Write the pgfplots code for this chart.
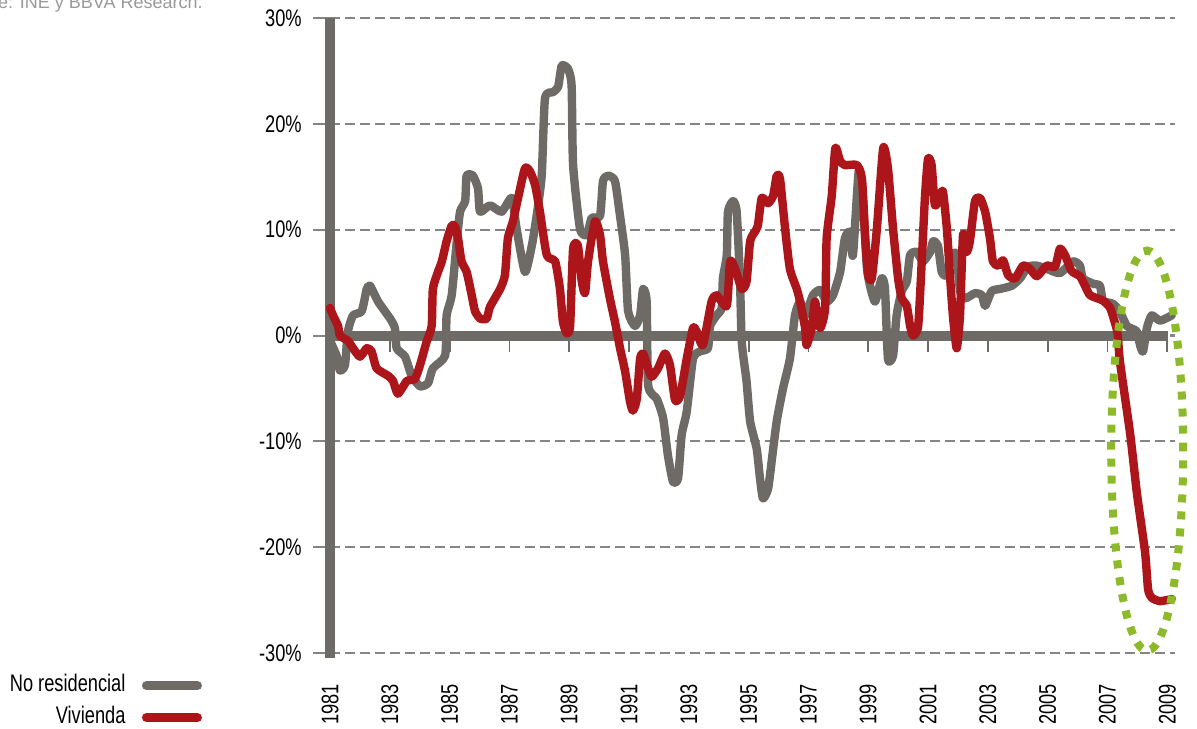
\documentclass[border=0pt]{standalone}
\usepackage{fontspec}
\setmainfont{Liberation Sans}[FakeStretch=0.76]
\newfontfamily\srcfont{Liberation Sans}
\usepackage{pgfplots}
\pgfplotsset{compat=1.18}
\definecolor{lgrey}{HTML}{6E6B66}
\definecolor{lred}{HTML}{AC1519}
\definecolor{lgreen}{HTML}{8CBA2A}
\definecolor{gridgrey}{HTML}{858585}
\begin{document}
\fontsize{12}{14}\selectfont
\begin{tikzpicture}
\useasboundingbox (0pt,0pt) rectangle (598.5pt,364pt);
\node[anchor=base east, inner sep=0pt, font=\srcfont\fontsize{9}{10}\selectfont, text=gray!80] at (101.5pt,359.8pt) {Fuente: INE y BBVA Research.};
\begin{axis}[
  scale only axis, width=422.35pt, height=317.5pt,
  at={(165pt,37.5pt)}, anchor=south west,
  xmin=1981, xmax=2009.25, ymin=-30, ymax=30,
  clip=false,
  axis line style={draw=none},
  ytick={-30,-20,-10,0,10,20,30},
  yticklabels={-30\%,-20\%,-10\%,0\%,10\%,20\%,30\%},
  xtick={1981,1983,1985,1987,1989,1991,1993,1995,1997,1999,2001,2003,2005,2007,2009},
  xticklabels={1981,1983,1985,1987,1989,1991,1993,1995,1997,1999,2001,2003,2005,2007,2009},
  tick label style={font=\fontsize{12}{14}\selectfont},
  xticklabel style={rotate=90, anchor=east},
  xticklabel shift=3pt,
  yticklabel shift=1.5pt,
  tick align=outside,
  major tick length=8.5pt,
  ytick pos=left,
  xtick pos=bottom,
  ytick style={draw=gridgrey, line width=1pt},
  xtick style={draw=none},
  ymajorgrids,
  major grid style={gridgrey, line width=1.1pt, dash pattern=on 5pt off 2.5pt},
  legend plot pos=right,
  legend cell align=right,
  legend image code/.code={\path[draw=none, fill=none] (0pt,-2pt) rectangle (1pt,2pt);\draw[#1, line width=4.5pt, line cap=round] (8.5pt,0pt) -- (34pt,0pt);},
  legend style={draw=none, fill=none, at={(axis description cs:-0.144,-0.021)}, anchor=north east,
    font=\fontsize{12}{14}\selectfont, nodes={inner sep=2pt, text height=8.5pt, text depth=2.5pt}, row sep=1pt},
]
\draw[lgrey, line width=5pt] (axis cs:1981,0) -- (axis cs:2009.03,0);
\draw[lgrey, line width=5.2pt] (axis cs:1981,-30.5) -- (axis cs:1981,30);
\pgfplotsinvokeforeach{1983,1985,...,2009}{\draw[lgrey, line width=0.9pt] (axis cs:#1,0) -- ++(0pt,-8pt);}
\addplot[lgrey, line width=4.2pt, line join=round, line cap=round, smooth, tension=0.35] coordinates {
(1981.00,-0.5) (1981.22,-1.9) (1981.33,-3.3) (1981.50,-2.8) (1981.60,0.4) (1981.77,1.9)
(1982.06,2.3) (1982.23,4.4) (1982.34,4.7) (1982.61,3.2) (1983.01,1.6) (1983.17,0.7)
(1983.23,-1.2) (1983.51,-2.0) (1983.73,-3.8) (1984.01,-4.8) (1984.28,-4.5) (1984.44,-3.1)
(1984.85,-1.9) (1984.90,1.9) (1985.07,3.8) (1985.24,8.9) (1985.35,11.7) (1985.52,12.7)
(1985.57,15.1) (1985.78,15.1) (1985.95,13.9) (1986.02,11.7) (1986.35,12.3) (1986.74,11.7)
(1987.08,13.0) (1987.24,10.1) (1987.52,6.0) (1987.75,8.5) (1987.91,11.3) (1988.08,15.1)
(1988.19,22.4) (1988.46,23.0) (1988.63,23.5) (1988.75,25.5) (1988.96,25.2) (1989.08,23.6)
(1989.13,16.1) (1989.36,10.1) (1989.59,9.5) (1989.75,11.1) (1990.03,11.3) (1990.13,14.6)
(1990.30,15.1) (1990.53,14.6) (1990.70,11.3) (1990.87,7.6) (1990.97,2.3) (1991.20,0.9)
(1991.37,1.9) (1991.47,4.4) (1991.59,3.2) (1991.64,-4.7) (1991.93,-6.0) (1992.14,-7.8)
(1992.30,-11.3) (1992.47,-13.8) (1992.64,-13.5) (1992.76,-9.4) (1992.93,-7.2) (1993.14,-2.2)
(1993.37,-1.5) (1993.64,-1.2) (1993.71,0.9) (1993.93,1.9) (1994.10,2.6) (1994.14,5.4)
(1994.27,7.6) (1994.31,11.7) (1994.48,12.7) (1994.60,11.7) (1994.71,5.4) (1994.77,-0.6)
(1994.93,-4.3) (1995.05,-8.1) (1995.27,-10.7) (1995.38,-13.5) (1995.48,-15.4) (1995.65,-14.5)
(1995.77,-11.9) (1995.94,-8.1) (1996.15,-5.0) (1996.38,-2.2) (1996.55,1.9) (1996.72,3.2)
(1996.89,1.9) (1997.15,3.8) (1997.39,4.3) (1997.61,3.2) (1997.82,3.8) (1998.06,6.0)
(1998.22,9.2) (1998.39,9.8) (1998.49,7.6) (1998.68,15.5) (1998.80,14.0) (1998.95,6.6)
(1999.06,4.7) (1999.23,3.2) (1999.45,5.4) (1999.56,4.4) (1999.66,-2.2) (1999.83,-1.9)
(1999.95,1.9) (2000.12,4.2) (2000.29,5.1) (2000.40,7.6) (2000.62,7.9) (2000.83,7.0)
(2001.07,7.9) (2001.17,8.9) (2001.33,8.5) (2001.46,6.0) (2001.63,5.7) (2001.79,7.7)
(2001.96,7.6) (2002.07,4.2) (2002.24,3.5) (2002.57,4.0) (2002.80,3.8) (2002.91,2.8)
(2003.13,4.2) (2003.41,4.4) (2003.80,4.7) (2004.08,5.4) (2004.34,6.5) (2004.64,6.6)
(2004.97,6.3) (2005.41,5.9) (2005.85,7.0) (2006.08,6.6) (2006.18,5.4) (2006.52,4.9)
(2006.75,4.7) (2006.85,3.3) (2007.18,3.0) (2007.41,2.3) (2007.65,0.9) (2007.98,0.4)
(2008.09,-0.9) (2008.19,-1.5) (2008.32,0.7) (2008.48,1.9) (2008.76,1.4) (2009.15,1.9)
};
\addlegendentry{No residencial}
\addplot[lred, line width=4.2pt, line join=round, line cap=round, smooth, tension=0.35] coordinates {
(1981.00,2.6) (1981.10,1.9) (1981.27,0.9) (1981.33,0.0) (1981.60,-0.5) (1981.77,-1.2)
(1982.00,-2.0) (1982.23,-1.2) (1982.39,-1.5) (1982.56,-3.1) (1982.94,-3.8) (1983.11,-4.3)
(1983.27,-5.5) (1983.57,-4.3) (1983.84,-4.1) (1984.01,-2.8) (1984.23,-0.6) (1984.40,0.9)
(1984.44,4.4) (1984.61,6.0) (1984.74,7.0) (1984.90,8.9) (1985.07,10.4) (1985.18,10.3)
(1985.28,9.2) (1985.40,7.0) (1985.57,6.0) (1985.74,3.8) (1985.85,2.3) (1986.02,1.6)
(1986.24,1.6) (1986.35,2.7) (1986.69,4.4) (1986.85,5.7) (1986.95,9.2) (1987.12,10.8)
(1987.29,13.0) (1987.52,15.8) (1987.69,15.5) (1987.86,14.2) (1988.02,11.7) (1988.25,7.6)
(1988.53,7.0) (1988.69,4.4) (1988.79,1.3) (1988.92,0.2) (1989.03,0.9) (1989.13,8.2)
(1989.29,8.5) (1989.42,5.1) (1989.53,4.0) (1989.63,7.0) (1989.86,10.8) (1990.03,9.5)
(1990.13,7.0) (1990.36,3.5) (1990.53,1.3) (1990.70,-1.2) (1990.87,-3.4) (1991.03,-6.2)
(1991.13,-7.1) (1991.26,-6.0) (1991.37,-2.2) (1991.47,-1.7) (1991.64,-3.1) (1991.76,-3.9)
(1991.97,-3.1) (1992.20,-1.7) (1992.37,-2.8) (1992.54,-6.1) (1992.71,-5.7) (1992.93,-2.2)
(1993.14,0.7) (1993.26,0.4) (1993.47,-0.9) (1993.76,3.2) (1993.93,3.8) (1994.27,2.8)
(1994.38,7.0) (1994.55,6.3) (1994.77,4.4) (1994.93,5.1) (1995.05,8.9) (1995.21,9.8)
(1995.31,10.4) (1995.44,13.0) (1995.65,12.5) (1995.82,13.2) (1995.94,15.1) (1996.05,14.8)
(1996.22,10.1) (1996.38,6.3) (1996.61,4.4) (1996.72,3.2) (1996.89,0.7) (1996.94,-0.9)
(1997.11,0.7) (1997.22,3.2) (1997.39,0.7) (1997.56,2.6) (1997.61,9.2) (1997.78,13.2)
(1997.90,17.7) (1998.06,16.5) (1998.22,16.1) (1998.62,16.1) (1998.79,14.8) (1998.90,9.2)
(1999.00,5.7) (1999.12,5.4) (1999.29,10.1) (1999.50,17.7) (1999.66,15.8) (1999.83,10.1)
(2000.00,5.4) (2000.12,3.5) (2000.29,2.8) (2000.40,0.9) (2000.50,0.0) (2000.67,0.9)
(2000.79,7.0) (2000.90,13.2) (2001.00,16.7) (2001.12,16.1) (2001.23,12.3) (2001.40,13.2)
(2001.50,13.6) (2001.63,10.1) (2001.74,5.4) (2001.84,1.6) (2001.96,-1.2) (2002.07,1.9)
(2002.17,9.5) (2002.29,7.9) (2002.40,8.9) (2002.57,12.7) (2002.74,13.0) (2002.91,11.7)
(2003.07,9.2) (2003.17,7.0) (2003.34,6.6) (2003.51,7.1) (2003.68,5.7) (2003.91,5.4)
(2004.18,6.6) (2004.41,6.3) (2004.64,5.6) (2004.97,6.6) (2005.25,6.5) (2005.41,8.2)
(2005.58,7.6) (2005.80,6.1) (2006.08,5.6) (2006.25,4.7) (2006.42,3.8) (2006.85,3.3)
(2007.09,2.6) (2007.24,1.3) (2007.34,0.2) (2007.42,-2.5) (2007.76,-9.3) (2007.99,-15.0)
(2008.26,-20.5) (2008.36,-24.0) (2008.49,-24.8) (2008.76,-25.1) (2009.15,-24.9)
};
\addlegendentry{Vivienda}
\draw[lgreen, line width=4pt, dash pattern=on 4pt off 4.5pt] (axis cs:2008.33,-10.87) ellipse [x radius=18pt, y radius=100pt];
\end{axis}
\end{tikzpicture}
\end{document}
